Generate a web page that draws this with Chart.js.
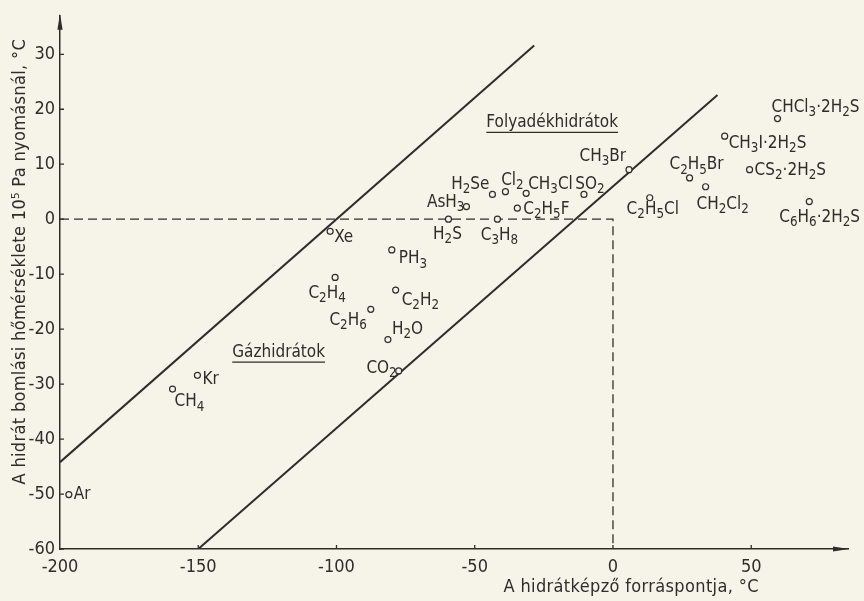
<!DOCTYPE html>
<html>
<head>
<meta charset="utf-8">
<script src="https://cdn.jsdelivr.net/npm/chart.js@4.4.1/dist/chart.umd.min.js"></script>
<style>
  html, body { margin: 0; background: #f6f4e8; }
  #wrap { width: 864px; height: 601px; }
</style>
</head>
<body>
<div id="wrap"><canvas id="c"></canvas></div>
<script>
// hydrate former, boiling point (°C), hydrate decomposition temp at 1e5 Pa (°C)
var formers = ["Ar", "Kr", "CH4", "Xe", "C2H4", "PH3", "C2H2", "C2H6", "H2O", "CO2",
  "AsH3", "H2S", "H2Se", "Cl2", "CH3Cl", "C2H5F", "C3H8", "SO2", "CH3Br", "C2H5Cl",
  "C2H5Br", "CH2Cl2", "CH3I·2H2S", "CHCl3·2H2S", "CS2·2H2S", "C6H6·2H2S"];
var boilingPoints = [-196.8, -150.3, -159.3, -102.3, -100.5, -80.0, -78.6, -87.6, -81.4, -77.5,
  -53.0, -59.5, -43.6, -38.9, -31.4, -34.6, -41.8, -10.5, 5.8, 13.3,
  27.7, 33.5, 40.4, 59.5, 49.4, 71.0];
var decompTemps = [-50.1, -28.4, -30.9, -2.2, -10.6, -5.6, -12.9, -16.4, -21.9, -27.6,
  2.3, 0, 4.5, 5.0, 4.7, 2.0, 0, 4.5, 9.0, 3.9,
  7.5, 5.9, 15.1, 18.3, 9.0, 3.2];

// boundary lines between the regions
var upperLineX = [-200, -28.5];
var upperLineY = [-44.2, 31.6];
var lowerLineX = [-150, 37.8];
var lowerLineY = [-60, 22.6];
// dashed guide at 0 °C
var guideX = [-200, 0, 0];
var guideY = [0, 0, -60];

var xTicks = [-200, -150, -100, -50, 0, 50];
var yTicks = [-60, -50, -40, -30, -20, -10, 0, 10, 20, 30];

var regionNames = ["Folyadékhidrátok", "Gázhidrátok"];
var regionX = [-45.8, -137.7];
var regionY = [17.6, -24.2];

var xTitle = "A hidrátképző forráspontja, °C";
var yTitle = "A hidrát bomlási hőmérséklete 10⁵ Pa nyomásnál, °C";

// label placement next to each circle: dx, dy (px), align
var labelPlace = [
  [5, 0, "left"], [5, 4, "left"], [2, 13, "left"], [4, 6, "left"], [-8, 16, "center"],
  [7, 9, "left"], [6, 10, "left"], [-4, 11, "right"], [4, -10, "left"], [-2, -2, "right"],
  [-2, -4, "right"], [-1, 15, "center"], [-3, -10, "right"], [7, -11, "center"], [2, -9, "left"],
  [6, 1, "left"], [2, 16, "center"], [6, -10, "center"], [-3, -13, "right"], [3, 12, "center"],
  [7, -13, "center"], [17, 18, "center"], [4, 7, "left"], [-6, -11, "left"], [5, 1, "left"],
  [-30, 16, "left"]
];

var ink = "#2e2d2a";
var paper = "#f6f4e8";
var fam = "'DejaVu Sans Condensed', 'DejaVu Sans', sans-serif";

function pairs(xs, ys) {
  return xs.map(function (x, i) { return { x: x, y: ys[i] }; });
}

// split "C2H5Cl" into normal / subscript runs (digit right after a letter is a subscript)
function chemRuns(s) {
  var runs = [];
  for (var i = 0; i < s.length; i++) {
    var c = s[i];
    var isDigit = c >= "0" && c <= "9";
    var prev = i > 0 ? s[i - 1] : "";
    var sub = isDigit && (/[A-Za-z]/.test(prev) || (runs.length && runs[runs.length - 1].sub && /[0-9]/.test(prev)));
    if (runs.length && runs[runs.length - 1].sub === sub) runs[runs.length - 1].t += c;
    else runs.push({ t: c, sub: sub });
  }
  return runs;
}

function drawChem(ctx, s, x, y, align, size) {
  var runs = chemRuns(s);
  var subSize = size * 0.78;
  var w = 0;
  runs.forEach(function (r) {
    ctx.font = (r.sub ? subSize : size) + "px " + fam;
    r.w = ctx.measureText(r.t).width;
    w += r.w;
  });
  var cx = align === "left" ? x : align === "right" ? x - w : x - w / 2;
  ctx.textAlign = "left";
  ctx.textBaseline = "middle";
  runs.forEach(function (r) {
    ctx.font = (r.sub ? subSize : size) + "px " + fam;
    ctx.fillText(r.t, cx, y + (r.sub ? size * 0.3 : 0));
    cx += r.w;
  });
}

// centred text spread out to a given width
function spreadText(ctx, t, x, y, width) {
  ctx.letterSpacing = "0px";
  var w = ctx.measureText(t).width;
  var gap = (width - w) / (t.length - 1);
  ctx.letterSpacing = gap.toFixed(2) + "px";
  ctx.textAlign = "left";
  ctx.fillText(t, x - width / 2, y);
  ctx.letterSpacing = "0px";
}

var decor = {
  id: "decor",
  beforeDraw: function (chart) {
    var ctx = chart.ctx;
    ctx.save();
    ctx.fillStyle = paper;
    ctx.fillRect(0, 0, chart.width, chart.height);
    ctx.restore();
  },
  afterDraw: function (chart) {
    var ctx = chart.ctx;
    var xs = chart.scales.x, ys = chart.scales.y;
    var a = chart.chartArea;
    ctx.save();
    ctx.fillStyle = ink;
    ctx.strokeStyle = ink;
    ctx.lineWidth = 1.3;

    // small inward tick marks
    ctx.beginPath();
    yTicks.forEach(function (v) {
      var py = ys.getPixelForValue(v);
      ctx.moveTo(a.left - 1, py); ctx.lineTo(a.left + 4, py);
    });
    xTicks.forEach(function (v) {
      if (v === xTicks[0]) return;
      var px = xs.getPixelForValue(v);
      ctx.moveTo(px, a.bottom); ctx.lineTo(px, a.bottom - 4);
    });
    ctx.stroke();

    // axis arrow heads
    ctx.beginPath();
    ctx.moveTo(a.left, a.top - 2);
    ctx.lineTo(a.left - 2.6, a.top + 14);
    ctx.lineTo(a.left + 2.6, a.top + 14);
    ctx.closePath();
    ctx.fill();
    ctx.beginPath();
    ctx.moveTo(a.right + 1, a.bottom);
    ctx.lineTo(a.right - 15, a.bottom - 2.6);
    ctx.lineTo(a.right - 15, a.bottom + 2.6);
    ctx.closePath();
    ctx.fill();

    // point labels
    formers.forEach(function (name, i) {
      var p = labelPlace[i];
      var px = xs.getPixelForValue(boilingPoints[i]);
      var py = ys.getPixelForValue(decompTemps[i]);
      drawChem(ctx, name, px + p[0], py + p[1], p[2], 17);
    });

    // region names, underlined
    ctx.font = "17px " + fam;
    ctx.textAlign = "left";
    ctx.textBaseline = "middle";
    regionNames.forEach(function (t, i) {
      var px = xs.getPixelForValue(regionX[i]);
      var py = ys.getPixelForValue(regionY[i]);
      ctx.fillText(t, px, py);
      var w = ctx.measureText(t).width;
      ctx.beginPath();
      ctx.lineWidth = 1.2;
      ctx.moveTo(px, py + 10); ctx.lineTo(px + w, py + 10);
      ctx.stroke();
    });

    // axis titles
    ctx.font = "18px " + fam;
    ctx.textBaseline = "middle";
    spreadText(ctx, xTitle, 631, 587, 255);
    ctx.translate(20, 262);
    ctx.rotate(-Math.PI / 2);
    spreadText(ctx, yTitle, 0, 0, 445);
    ctx.restore();
  }
};

new Chart(document.getElementById("c"), {
  type: "scatter",
  data: {
    datasets: [
      {
        data: pairs(boilingPoints, decompTemps),
        pointStyle: "circle",
        pointRadius: 3,
        pointBorderWidth: 1.2,
        pointBorderColor: ink,
        pointBackgroundColor: paper,
        showLine: false
      },
      {
        data: pairs(upperLineX, upperLineY),
        showLine: true, borderColor: ink, borderWidth: 2, pointRadius: 0
      },
      {
        data: pairs(lowerLineX, lowerLineY),
        showLine: true, borderColor: ink, borderWidth: 2, pointRadius: 0
      },
      {
        data: pairs(guideX, guideY),
        showLine: true, borderColor: ink, borderWidth: 1.3, borderDash: [9, 5], pointRadius: 0
      }
    ]
  },
  options: {
    responsive: true,
    maintainAspectRatio: false,
    animation: false,
    layout: { padding: { top: 9, right: 16, left: 0, bottom: 0 } },
    plugins: { legend: { display: false }, tooltip: { enabled: false } },
    scales: {
      x: {
        type: "linear", min: -200, max: 85,
        afterBuildTicks: function (s) { s.ticks = xTicks.map(function (v) { return { value: v }; }); },
        afterFit: function (s) { s.height = 52; },
        grid: { drawOnChartArea: false, drawTicks: false },
        border: { display: true, color: ink, width: 1.5 },
        ticks: { color: ink, font: { family: fam, size: 18 }, padding: 8, maxRotation: 0, autoSkip: false }
      },
      y: {
        type: "linear", min: -60, max: 37,
        afterBuildTicks: function (s) { s.ticks = yTicks.map(function (v) { return { value: v }; }); },
        afterFit: function (s) { s.width = 60; },
        grid: { drawOnChartArea: false, drawTicks: false },
        border: { display: true, color: ink, width: 1.5 },
        ticks: { color: ink, font: { family: fam, size: 18 }, padding: 5, autoSkip: false }
      }
    }
  },
  plugins: [decor]
});
</script>
</body>
</html>
